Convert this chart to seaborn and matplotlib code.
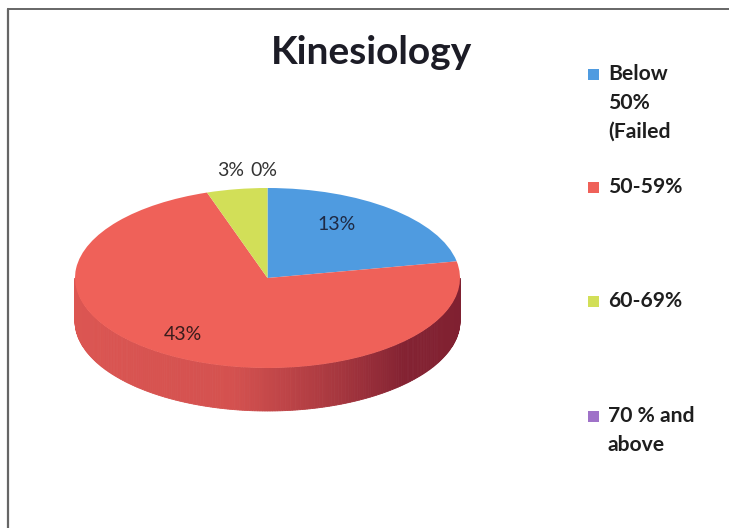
import numpy as np
import matplotlib
matplotlib.use("Agg")
import matplotlib.pyplot as plt
from matplotlib.patches import Rectangle, Polygon
from matplotlib.transforms import Affine2D
import seaborn as sns

title = "Kinesiology"
categories = ["Below\n50%\n(Failed", "50-59%", "60-69%", "70 % and\nabove"]
values = [13, 43, 3, 0]
colors = ["#4f9be0", "#ef6159", "#d2df58", "#9f72c8"]

sns.set_theme(style="white")
plt.rcParams["font.family"] = ["Lato", "DejaVu Sans"]

W, H = 729, 528
fig = plt.figure(figsize=(W / 100, H / 100), dpi=100)
ax = fig.add_axes([0, 0, 1, 1])

# ellipse geometry of the tilted pie (pixel units, y up)
cx, cy = 267.5, H - 278
rx, ry = 192.5, 90
depth = 43
k = ry / rx
start = 90.0

fracs = np.array(values, dtype=float) / sum(values)
bounds = np.cumsum(fracs) * 360


def slice_at(theta):
    d = (start - theta) % 360
    return min(int(np.searchsorted(bounds, d, side="right")), len(values) - 1)


# extruded rim along the front half, shaded darker toward the right
dark = np.array([90, 10, 35]) / 255
thetas = np.linspace(180, 360, 241)
for t0, t1 in zip(thetas[:-1], thetas[1:]):
    mid = 0.5 * (t0 + t1)
    base = np.array(matplotlib.colors.to_rgb(colors[slice_at(mid)]))
    s = np.interp(mid, [180, 260, 288, 315, 360], [0.12, 0.18, 0.45, 0.72, 0.75])
    c = base * (1 - s) + dark * s
    a0, a1 = np.radians(t0), np.radians(t1)
    pts = [
        (cx + rx * np.cos(a0), cy + ry * np.sin(a0)),
        (cx + rx * np.cos(a1), cy + ry * np.sin(a1)),
        (cx + rx * np.cos(a1), cy + ry * np.sin(a1) - depth),
        (cx + rx * np.cos(a0), cy + ry * np.sin(a0) - depth),
    ]
    ax.add_patch(Polygon(pts, closed=True, facecolor=c, edgecolor=c, lw=0.6, zorder=1))

# top face: a regular pie, squashed vertically
wedges, _ = ax.pie(values, colors=colors, startangle=start, counterclock=False,
                   radius=rx, center=(cx, cy), wedgeprops=dict(linewidth=0))
squash = Affine2D().translate(-cx, -cy).scale(1, k).translate(cx, cy)
for w in wedges:
    w.set_transform(squash + ax.transData)
    w.set_zorder(2)

ax.set_xlim(0, W)
ax.set_ylim(0, H)
ax.set_aspect("auto")
ax.axis("off")

# data labels
label_pos = [(337, 224), (183, 334), (231, 171), (264, 171)]
label_colors = ["#1f2a44", "#3a1c1c", "#333333", "#333333"]
for v, (x, y), lc in zip(values, label_pos, label_colors):
    ax.text(x, H - y, f"{v}%", ha="center", va="center", fontsize=14,
            color=lc, zorder=5)

# title
ax.text(372, H - 53, title, ha="center", va="center", fontsize=28,
        fontweight="bold", color="#1c1c26", zorder=5)

# legend
legend_y = [74, 187, 301, 416]
for cat, col, y0 in zip(categories, colors, legend_y):
    ax.add_patch(Rectangle((588, H - y0 - 5.5), 11, 11, facecolor=col,
                           edgecolor="none", zorder=5))
    for i, line in enumerate(cat.split("\n")):
        ax.text(608, H - (y0 + 29 * i), line, ha="left", va="center",
                fontsize=15.2, fontweight="bold", color="#1e1e1e", zorder=5)

# chart frame
ax.plot([8, 8], [0, H - 9], color="#666666", lw=1.6, zorder=6)
ax.plot([8, W], [H - 9, H - 9], color="#666666", lw=1.4, zorder=6)

fig.savefig("out.png", dpi=100)
